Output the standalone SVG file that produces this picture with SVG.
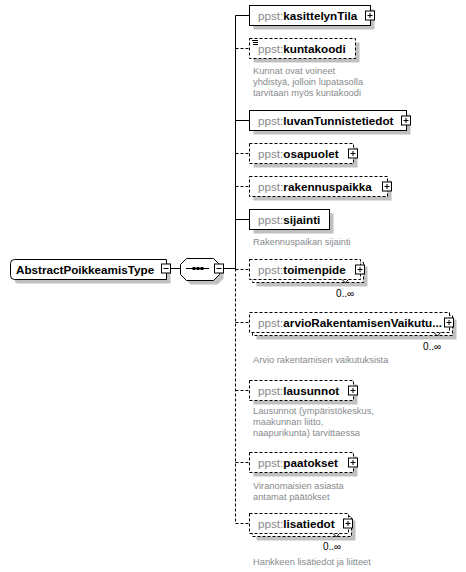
<svg xmlns="http://www.w3.org/2000/svg" width="466" height="572" viewBox="0 0 466 572">
<defs>
<style>
.bx{fill:#fff;stroke:#000;stroke-width:1}
.dz{fill:#fff;stroke:#000;stroke-width:1;stroke-dasharray:3,2}
.sh{fill:#c0c0c0;stroke:none}
.ln{stroke:#000;stroke-width:1;fill:none}
.dl{stroke:#000;stroke-width:1;fill:none;stroke-dasharray:3,2}
.t{font-family:"Liberation Sans",Arial,sans-serif;font-size:11.7px}
.ns{fill:#8a8a8a}
.nm{fill:#000;font-weight:bold}
.d{font-family:"Liberation Sans",Arial,sans-serif;font-size:9.3px;fill:#878a8e}
.c{font-family:"Liberation Sans",Arial,sans-serif;font-size:10px;fill:#000}
</style>
<g id="plus"><rect x="0" y="0" width="9" height="9" class="bx"/><path d="M2 4.5H7M4.5 2V7" class="ln"/></g>
<g id="minus"><rect x="0" y="0" width="9" height="9" class="bx"/><path d="M2 4.5H7" class="ln"/></g>
</defs>
<rect width="466" height="572" fill="#fff"/>

<g id="connectors">
<path d="M170.5 268.5H180.5" class="ln"/>
<path d="M223.5 268.5H235.5" class="ln"/>
<path d="M235.5 15.5V268.5" class="ln"/>
<path d="M235.5 268.5V523.5" class="dl"/>
<path d="M235.5 15.5H249.5" class="ln"/>
<path d="M235.5 48.5H249.5" class="dl"/>
<path d="M235.5 120.5H249.5" class="ln"/>
<path d="M235.5 153.5H249.5" class="dl"/>
<path d="M235.5 186.5H249.5" class="dl"/>
<path d="M235.5 219.5H249.5" class="ln"/>
<path d="M235.5 269.5H249.5" class="dl"/>
<path d="M235.5 322.5H249.5" class="dl"/>
<path d="M235.5 390.5H249.5" class="dl"/>
<path d="M235.5 462.5H249.5" class="dl"/>
<path d="M235.5 523.5H249.5" class="dl"/>
</g>

<g id="root">
<path d="M18.5 263.5H170.5V283.5H18.5Q14.5 283.5 14.5 279.5V267.5Q14.5 263.5 18.5 263.5Z" class="sh"/>
<path d="M14.5 259.5H166.5V279.5H14.5Q10.5 279.5 10.5 275.5V263.5Q10.5 259.5 14.5 259.5Z" class="bx"/>
<text x="16" y="273.5" class="t nm" style="font-size:11.7px">AbstractPoikkeamisType</text>
<use href="#minus" x="161.5" y="264"/>
</g>

<g id="sequence">
<polygon points="190.5,262.5 217.5,262.5 223.5,268.5 223.5,278.5 217.5,284.5 190.5,284.5 184.5,278.5 184.5,268.5" class="sh"/>
<polygon points="186.5,258.5 213.5,258.5 219.5,264.5 219.5,274.5 213.5,280.5 186.5,280.5 180.5,274.5 180.5,264.5" class="bx"/>
<path d="M186 268.5H209" class="ln"/>
<rect x="192.5" y="267" width="3" height="3" fill="#000"/>
<rect x="196.5" y="267" width="3" height="3" fill="#000"/>
<rect x="200.5" y="267" width="3" height="3" fill="#000"/>
<use href="#minus" x="214.5" y="264"/>
</g>

<g id="kasittelynTila">
<rect x="253.5" y="9.5" width="121" height="20" class="sh"/>
<rect x="249.5" y="5.5" width="121" height="20" class="bx"/>
<text x="258" y="19.5" class="t"><tspan class="ns">ppst:</tspan><tspan class="nm">kasittelynTila</tspan></text>
<use href="#plus" x="365.5" y="11"/>
</g>

<g id="kuntakoodi">
<rect x="253.5" y="42.5" width="106" height="20" class="sh"/>
<rect x="249.5" y="38.5" width="106" height="20" class="dz"/>
<path d="M252 40.5H258M253 42.5H258M253 44.5H258" class="ln"/>
<text x="258" y="52.5" class="t"><tspan class="ns">ppst:</tspan><tspan class="nm">kuntakoodi</tspan></text>
<text class="d"><tspan x="253" y="74">Kunnat ovat voineet</tspan><tspan x="253" y="85">yhdistyä, jolloin lupatasolla</tspan><tspan x="253" y="96">tarvitaan myös kuntakoodi</tspan></text>
</g>

<g id="luvanTunnistetiedot">
<rect x="253.5" y="114.5" width="157" height="20" class="sh"/>
<rect x="249.5" y="110.5" width="157" height="20" class="bx"/>
<text x="258" y="124.5" class="t"><tspan class="ns">ppst:</tspan><tspan class="nm">luvanTunnistetiedot</tspan></text>
<use href="#plus" x="401.5" y="116"/>
</g>

<g id="osapuolet">
<rect x="253.5" y="147.5" width="104" height="20" class="sh"/>
<rect x="249.5" y="143.5" width="104" height="20" class="dz"/>
<text x="258" y="157.5" class="t"><tspan class="ns">ppst:</tspan><tspan class="nm">osapuolet</tspan></text>
<use href="#plus" x="348.5" y="149"/>
</g>

<g id="rakennuspaikka">
<rect x="253.5" y="180.5" width="138" height="20" class="sh"/>
<rect x="249.5" y="176.5" width="138" height="20" class="dz"/>
<text x="258" y="190.5" class="t"><tspan class="ns">ppst:</tspan><tspan class="nm">rakennuspaikka</tspan></text>
<use href="#plus" x="382.5" y="182"/>
</g>

<g id="sijainti">
<rect x="253.5" y="213.5" width="80" height="20" class="sh"/>
<rect x="249.5" y="209.5" width="80" height="20" class="bx"/>
<text x="258" y="223.5" class="t"><tspan class="ns">ppst:</tspan><tspan class="nm">sijainti</tspan></text>
<text x="253" y="245" class="d">Rakennuspaikan sijainti</text>
</g>

<g id="toimenpide">
<rect x="256.5" y="266.5" width="111" height="20" class="sh"/>
<rect x="252.5" y="262.5" width="111" height="20" class="dz"/>
<rect x="249.5" y="259.5" width="111" height="20" class="dz"/>
<path d="M342 279.5L345.5 283L348.5 279.5" class="ln"/>
<text x="258" y="273.5" class="t"><tspan class="ns">ppst:</tspan><tspan class="nm">toimenpide</tspan></text>
<use href="#plus" x="355.5" y="265"/>
<text x="336" y="297" class="c">0..∞</text>
</g>

<g id="arvioRakentamisenVaikutuksista">
<rect x="256.5" y="319.5" width="200" height="20" class="sh"/>
<rect x="252.5" y="315.5" width="200" height="20" class="dz"/>
<rect x="249.5" y="312.5" width="200" height="20" class="dz"/>
<path d="M434 332.5L437.5 336L440.5 332.5" class="ln"/>
<text x="258" y="326.5" class="t" textLength="184" lengthAdjust="spacingAndGlyphs"><tspan class="ns">ppst:</tspan><tspan class="nm">arvioRakentamisenVaikutu...</tspan></text>
<use href="#plus" x="444.5" y="318"/>
<text x="423" y="350" class="c">0..∞</text>
<text x="253" y="363" class="d">Arvio rakentamisen vaikutuksista</text>
</g>

<g id="lausunnot">
<rect x="253.5" y="384.5" width="104" height="20" class="sh"/>
<rect x="249.5" y="380.5" width="104" height="20" class="dz"/>
<text x="258" y="394.5" class="t"><tspan class="ns">ppst:</tspan><tspan class="nm">lausunnot</tspan></text>
<use href="#plus" x="348.5" y="386"/>
<text class="d"><tspan x="253" y="414">Lausunnot (ympäristökeskus,</tspan><tspan x="253" y="425">maakunnan liitto,</tspan><tspan x="253" y="436">naapurikunta) tarvittaessa</tspan></text>
</g>

<g id="paatokset">
<rect x="253.5" y="456.5" width="104" height="20" class="sh"/>
<rect x="249.5" y="452.5" width="104" height="20" class="dz"/>
<text x="258" y="466.5" class="t"><tspan class="ns">ppst:</tspan><tspan class="nm">paatokset</tspan></text>
<use href="#plus" x="348.5" y="458"/>
<text class="d"><tspan x="253" y="489">Viranomaisien asiasta</tspan><tspan x="253" y="500">antamat päätökset</tspan></text>
</g>

<g id="lisatiedot">
<rect x="256.5" y="520.5" width="99" height="20" class="sh"/>
<rect x="252.5" y="516.5" width="99" height="20" class="dz"/>
<rect x="249.5" y="513.5" width="99" height="20" class="dz"/>
<path d="M333 533.5L336.5 537L339.5 533.5" class="ln"/>
<text x="258" y="527.5" class="t"><tspan class="ns">ppst:</tspan><tspan class="nm">lisatiedot</tspan></text>
<use href="#plus" x="343.5" y="519"/>
<text x="323" y="550" class="c">0..∞</text>
<text x="253" y="565" class="d">Hankkeen lisätiedot ja liitteet</text>
</g>
</svg>
